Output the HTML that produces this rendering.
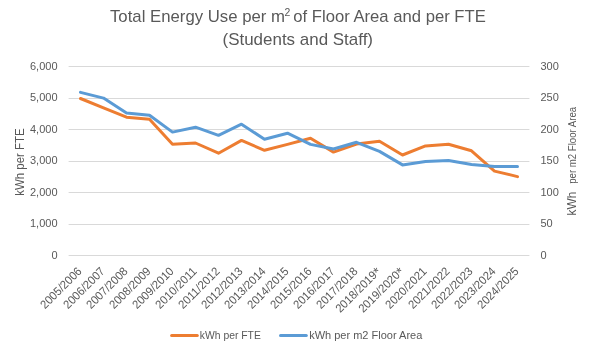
<!DOCTYPE html><html><head><meta charset="utf-8"><style>html,body{margin:0;padding:0;background:#fff;width:592px;height:350px;overflow:hidden}svg{display:block;will-change:transform}text{font-family:"Liberation Sans",sans-serif;fill:#595959}</style></head><body>
<svg width="592" height="350" viewBox="0 0 592 350">
<rect width="592" height="350" fill="#fff"/>
<line x1="68.6" y1="66.50" x2="529.4" y2="66.50" stroke="#d9d9d9" stroke-width="1"/>
<line x1="68.6" y1="98.50" x2="529.4" y2="98.50" stroke="#d9d9d9" stroke-width="1"/>
<line x1="68.6" y1="129.50" x2="529.4" y2="129.50" stroke="#d9d9d9" stroke-width="1"/>
<line x1="68.6" y1="161.50" x2="529.4" y2="161.50" stroke="#d9d9d9" stroke-width="1"/>
<line x1="68.6" y1="192.50" x2="529.4" y2="192.50" stroke="#d9d9d9" stroke-width="1"/>
<line x1="68.6" y1="224.50" x2="529.4" y2="224.50" stroke="#d9d9d9" stroke-width="1"/>
<line x1="68.6" y1="255.50" x2="529.4" y2="255.50" stroke="#d9d9d9" stroke-width="1"/>
<text x="57.5" y="69.90" font-size="11" text-anchor="end">6,000</text>
<text x="57.5" y="101.40" font-size="11" text-anchor="end">5,000</text>
<text x="57.5" y="132.90" font-size="11" text-anchor="end">4,000</text>
<text x="57.5" y="164.40" font-size="11" text-anchor="end">3,000</text>
<text x="57.5" y="195.90" font-size="11" text-anchor="end">2,000</text>
<text x="57.5" y="227.40" font-size="11" text-anchor="end">1,000</text>
<text x="57.5" y="258.90" font-size="11" text-anchor="end">0</text>
<text x="540.5" y="69.90" font-size="11">300</text>
<text x="540.5" y="101.40" font-size="11">250</text>
<text x="540.5" y="132.90" font-size="11">200</text>
<text x="540.5" y="164.40" font-size="11">150</text>
<text x="540.5" y="195.90" font-size="11">100</text>
<text x="540.5" y="227.40" font-size="11">50</text>
<text x="540.5" y="258.90" font-size="11">0</text>
<text x="110" y="22" font-size="16.2" textLength="175" lengthAdjust="spacingAndGlyphs">Total Energy Use per m</text>
<text x="284.6" y="16.2" font-size="11.8" textLength="5.8" lengthAdjust="spacingAndGlyphs">2</text>
<text x="293.3" y="22" font-size="16.2" textLength="192.5" lengthAdjust="spacingAndGlyphs">of Floor Area and per FTE</text>
<text x="222.5" y="44.8" font-size="16.2" textLength="150.5" lengthAdjust="spacingAndGlyphs">(Students and Staff)</text>
<text transform="translate(23.6,195.8) rotate(-90)" font-size="12.3" textLength="67.5" lengthAdjust="spacingAndGlyphs">kWh per FTE</text>
<text transform="translate(576.3,215.4) rotate(-90)" font-size="13" textLength="23.8" lengthAdjust="spacingAndGlyphs">kWh</text>
<text transform="translate(576.2,183.8) rotate(-90)" font-size="10.6" textLength="77" lengthAdjust="spacingAndGlyphs">per m2 Floor Area</text>
<text transform="translate(82.50,272.00) rotate(-45)" font-size="11.8" text-anchor="end" textLength="53" lengthAdjust="spacingAndGlyphs">2005/2006</text>
<text transform="translate(105.50,272.00) rotate(-45)" font-size="11.8" text-anchor="end" textLength="53" lengthAdjust="spacingAndGlyphs">2006/2007</text>
<text transform="translate(128.50,272.00) rotate(-45)" font-size="11.8" text-anchor="end" textLength="53" lengthAdjust="spacingAndGlyphs">2007/2008</text>
<text transform="translate(151.50,272.00) rotate(-45)" font-size="11.8" text-anchor="end" textLength="53" lengthAdjust="spacingAndGlyphs">2008/2009</text>
<text transform="translate(174.50,272.00) rotate(-45)" font-size="11.8" text-anchor="end" textLength="53" lengthAdjust="spacingAndGlyphs">2009/2010</text>
<text transform="translate(197.50,272.00) rotate(-45)" font-size="11.8" text-anchor="end" textLength="53" lengthAdjust="spacingAndGlyphs">2010/2011</text>
<text transform="translate(220.50,272.00) rotate(-45)" font-size="11.8" text-anchor="end" textLength="53" lengthAdjust="spacingAndGlyphs">2011/2012</text>
<text transform="translate(243.50,272.00) rotate(-45)" font-size="11.8" text-anchor="end" textLength="53" lengthAdjust="spacingAndGlyphs">2012/2013</text>
<text transform="translate(266.50,272.00) rotate(-45)" font-size="11.8" text-anchor="end" textLength="53" lengthAdjust="spacingAndGlyphs">2013/2014</text>
<text transform="translate(289.50,272.00) rotate(-45)" font-size="11.8" text-anchor="end" textLength="53" lengthAdjust="spacingAndGlyphs">2014/2015</text>
<text transform="translate(312.50,272.00) rotate(-45)" font-size="11.8" text-anchor="end" textLength="53" lengthAdjust="spacingAndGlyphs">2015/2016</text>
<text transform="translate(335.50,272.00) rotate(-45)" font-size="11.8" text-anchor="end" textLength="53" lengthAdjust="spacingAndGlyphs">2016/2017</text>
<text transform="translate(358.50,272.00) rotate(-45)" font-size="11.8" text-anchor="end" textLength="53" lengthAdjust="spacingAndGlyphs">2017/2018</text>
<text transform="translate(381.50,272.00) rotate(-45)" font-size="11.8" text-anchor="end"><tspan textLength="53" lengthAdjust="spacingAndGlyphs">2018/2019</tspan><tspan font-size="14" dy="1.5">*</tspan></text>
<text transform="translate(404.50,272.00) rotate(-45)" font-size="11.8" text-anchor="end"><tspan textLength="53" lengthAdjust="spacingAndGlyphs">2019/2020</tspan><tspan font-size="14" dy="1.5">*</tspan></text>
<text transform="translate(427.50,272.00) rotate(-45)" font-size="11.8" text-anchor="end" textLength="53" lengthAdjust="spacingAndGlyphs">2020/2021</text>
<text transform="translate(450.50,272.00) rotate(-45)" font-size="11.8" text-anchor="end" textLength="53" lengthAdjust="spacingAndGlyphs">2021/2022</text>
<text transform="translate(473.50,272.00) rotate(-45)" font-size="11.8" text-anchor="end" textLength="53" lengthAdjust="spacingAndGlyphs">2022/2023</text>
<text transform="translate(496.50,272.00) rotate(-45)" font-size="11.8" text-anchor="end" textLength="53" lengthAdjust="spacingAndGlyphs">2023/2024</text>
<text transform="translate(519.50,272.00) rotate(-45)" font-size="11.8" text-anchor="end" textLength="53" lengthAdjust="spacingAndGlyphs">2024/2025</text>
<polyline points="80.50,98.50 103.50,107.90 126.50,117.20 149.50,119.30 172.50,144.30 195.50,143.00 218.50,153.20 241.50,140.40 264.50,150.30 287.50,144.40 310.50,138.30 333.50,152.10 356.50,144.00 379.50,141.20 402.50,155.00 425.50,145.90 448.50,144.20 471.50,150.80 494.50,171.10 517.50,176.60" fill="none" stroke="#ed7d31" stroke-width="3.00" stroke-linejoin="round" stroke-linecap="round"/>
<polyline points="80.50,92.40 103.50,98.10 126.50,113.00 149.50,115.20 172.50,132.10 195.50,127.20 218.50,135.30 241.50,124.20 264.50,139.30 287.50,133.20 310.50,144.40 333.50,149.00 356.50,142.30 379.50,151.40 402.50,164.90 425.50,161.50 448.50,160.40 471.50,164.40 494.50,166.40 517.50,166.40" fill="none" stroke="#5b9bd5" stroke-width="3.00" stroke-linejoin="round" stroke-linecap="round"/>
<line x1="171.6" y1="335.4" x2="197.3" y2="335.4" stroke="#ed7d31" stroke-width="3" stroke-linecap="round"/>
<text x="199.8" y="338.7" font-size="11" textLength="61" lengthAdjust="spacingAndGlyphs">kWh per FTE</text>
<line x1="280.5" y1="335.4" x2="306.3" y2="335.4" stroke="#5b9bd5" stroke-width="3" stroke-linecap="round"/>
<text x="309.2" y="338.7" font-size="11">kWh per m2 Floor Area</text>
</svg></body></html>
